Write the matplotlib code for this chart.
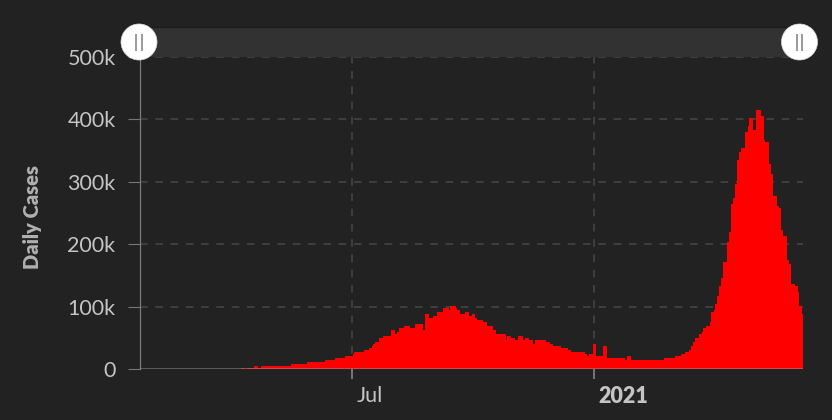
import numpy as np
import pandas as pd
import matplotlib
matplotlib.use('Agg')
import matplotlib.pyplot as plt
import matplotlib.dates as mdates
from matplotlib.ticker import FuncFormatter
from matplotlib.patches import Circle, Rectangle
from matplotlib.transforms import ScaledTranslation

# daily new cases (thousands), one row per week, starting 2020-01-22
start_date = '2020-01-22'
daily_cases_k = [
    0, 0, 0, 0, 0, 0, 0,
    0, 0, 0.001, 0.001, 0, 0.001, 0.001,
    0, 0, 0, 0, 0, 0, 0,
    0, 0, 0, 0, 0, 0, 0,
    0, 0, 0, 0, 0, 0, 0,
    0, 0, 0, 0, 0, 0, 0.002,
    0.022, 0.002, 0.001, 0.001, 0.003, 0.005, 0.004,
    0.013, 0.006, 0.011, 0.009, 0.020, 0.011, 0.006,
    0.023, 0.014, 0.038, 0.050, 0.086, 0.066, 0.103,
    0.037, 0.121, 0.070, 0.160, 0.100, 0.227, 0.146,
    0.601, 0.545, 0.624, 0.355, 0.578, 0.601, 0.545,
    0.809, 0.873, 0.848, 0.758, 1.243, 1.031, 0.886,
    1.061, 0.922, 1.370, 4.8, 4.8, 4.8, 1.2,
    1.3, 4.6, 4.6, 4.7, 4.7, 4.8, 4.8,
    4.8, 4.8, 4.9, 4.9, 4.8, 4.8, 4.9,
    4.9, 5.0, 5.0, 4.9, 5.0, 5.1, 5.1,
    5.2, 5.2, 5.3, 7.7, 7.7, 7.7, 7.7,
    7.7, 7.7, 7.7, 7.7, 7.7, 7.7, 7.7,
    7.7, 11, 11, 11, 11, 11, 11,
    11, 11, 11, 11, 11, 11, 11,
    11, 14, 14, 14, 14, 14, 14,
    14, 17, 17, 17, 17, 17, 17,
    17, 17, 21, 21, 21, 21, 21,
    21, 24, 27, 27, 27, 27, 27,
    27, 27, 30, 30, 30, 30, 33,
    33, 36.5, 40, 40, 43, 43, 43,
    49, 49, 49, 53, 53, 53, 53,
    53, 53, 62, 62, 62, 56, 59,
    59, 65, 65, 65, 65, 69, 69,
    69, 69, 65, 65, 65, 65, 72,
    72, 72, 72, 72, 72, 62, 62,
    88, 88, 88, 81, 81, 81, 85,
    85, 85, 91, 91, 91, 91, 97.5,
    97.5, 97.5, 97.5, 97.5, 94, 101, 101,
    101, 101, 97.5, 94, 94, 88, 88,
    88, 88, 91, 91, 91, 85, 85,
    88, 88, 88, 81, 78, 78, 78,
    78, 78, 75, 75, 75, 69, 69,
    69, 69, 62, 62, 62, 56, 56,
    56, 56, 56, 56, 56, 46, 53,
    53, 53, 49, 49, 49, 46, 46,
    53, 53, 53, 53, 46, 46, 49,
    49, 49, 46, 46, 46, 40, 46,
    46, 46, 46, 46, 46, 46, 46,
    46, 43, 43, 43, 40, 40, 36.5,
    36.5, 36.5, 36.5, 36.5, 36.5, 33, 33,
    33, 33, 33, 30, 30, 30, 27,
    27, 27, 27, 27, 27, 27, 27,
    27, 27, 24, 24, 20.5, 24, 24,
    24, 40, 40, 40, 20.5, 20.5, 20.5,
    20.5, 20.5, 36.5, 36.5, 36.5, 17, 17,
    17, 17, 17, 17, 17, 17, 17,
    17, 17, 17, 17, 17, 14, 20.5,
    20.5, 20.5, 14, 14, 14, 14, 14,
    14, 14, 14, 14, 14, 14, 14,
    14, 14, 14, 14, 14, 14, 14,
    14, 14, 14, 14, 14, 14, 17,
    17, 17, 17, 17, 17, 17, 17,
    17, 20.5, 20.5, 20.5, 20.5, 24, 24,
    24, 27, 27, 27, 30, 30, 36.5,
    43, 43, 49, 49, 49, 56, 56,
    59, 65, 65, 69, 69, 69, 75,
    91, 91, 94, 104, 104, 117, 133,
    133, 146, 171, 171, 171, 203, 203,
    220, 264, 264, 274, 297, 297, 335,
    348, 348, 354, 354, 354, 380, 380,
    390, 402, 402, 402, 383, 383, 415,
    415, 415, 415, 406, 406, 367, 364,
    364, 364, 329, 329, 313, 277, 277,
    277, 261, 261, 258, 223, 223, 213,
    213, 213, 175, 168, 168, 136, 136,
    136, 133, 133, 123, 101, 101, 88,
]
y_ticks_k = [0, 100, 200, 300, 400, 500]
x_tick_dates = ['2020-07-01', '2021-01-01']
x_tick_labels = ['Jul', '2021']

plt.rcParams['font.family'] = ['Lato', 'DejaVu Sans']
plt.rcParams['lines.scale_dashes'] = False

BG = '#222222'
W, H = 832, 420

dates = pd.date_range(start_date, periods=len(daily_cases_k), freq='D')
xnum = mdates.date2num(dates)
edges = np.append(xnum, xnum[-1] + 1)
cases = np.array(daily_cases_k) * 1000

fig = plt.figure(figsize=(W / 100, H / 100), dpi=100, facecolor=BG)
ax = fig.add_axes([140 / W, (H - 369) / H, (803 - 140) / W, (369 - 57) / H])
ax.set_facecolor(BG)

# one column per day, drawn as a single filled step shape (no seams between days)
ax.stairs(cases, edges, fill=True, color='#ff0000', linewidth=0, zorder=2)
ax.axhline(0, color='#999999', alpha=0.47, lw=1.44, zorder=3)

ax.set_xlim(edges[0], edges[-1])
ax.set_ylim(0, 500000)

# y axis
ax.set_yticks([v * 1000 for v in y_ticks_k])
ax.yaxis.set_major_formatter(FuncFormatter(lambda v, p: '0' if v == 0 else f'{int(v / 1000)}k'))
ax.tick_params(axis='y', length=8.6, width=0.8, color='#777777', pad=9,
               labelsize=15.5, labelcolor='#c4c4c4')

# x axis
ax.set_xticks(mdates.date2num(pd.to_datetime(x_tick_dates)))
ax.set_xticklabels(x_tick_labels)
ax.tick_params(axis='x', length=7.2, width=1.4, color='#777777', pad=5,
               labelsize=15.5, labelcolor='#c4c4c4')
for lab in ax.get_xticklabels():
    lab.set_horizontalalignment('left')
    lab.set_transform(lab.get_transform() + ScaledTranslation(5 / 100, 0, fig.dpi_scale_trans))
ax.get_xticklabels()[1].set_fontweight('heavy')

# grid
ax.set_axisbelow(True)
ax.grid(True, axis='both', color='#474747', lw=1.1, linestyle=(0, (5.5, 5.5)))
ax.yaxis.get_gridlines()[0].set_visible(False)

for s in ['top', 'right', 'bottom']:
    ax.spines[s].set_visible(False)
ax.spines['left'].set_color('#7a7a7a')
ax.spines['left'].set_linewidth(0.9)

fig.text(33 / W, 1 - 217 / H, 'Daily Cases', rotation=90, ha='center', va='center',
         fontsize=14.5, fontweight='heavy', color='#b0b0b0')

# navigator band with handles (pixel coords overlay)
ov = fig.add_axes([0, 0, 1, 1])
ov.set_xlim(0, W)
ov.set_ylim(H, 0)
ov.axis('off')
ov.patch.set_alpha(0)
ov.add_patch(Rectangle((140, 27), 660, 29.5, facecolor='#323232', edgecolor='none'))
ov.plot([140, 800], [27.3, 27.3], color='#1c1c1c', lw=0.8)
for cx in [139, 799.5]:
    ov.add_patch(Circle((cx, 42), 18, facecolor='white', edgecolor='#dddddd', lw=0.5, zorder=5))
    for dx in [-2.7, 2.7]:
        ov.plot([cx + dx, cx + dx], [33.5, 51], color='#9a9a9a', lw=1.4, zorder=6,
                solid_capstyle='butt')

fig.savefig('out.png', dpi=100, facecolor=BG)
